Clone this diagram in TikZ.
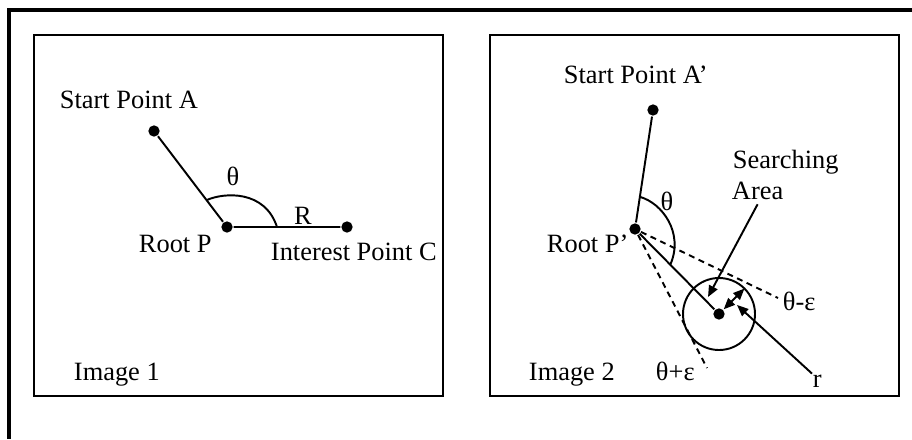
\documentclass[tikz,border=0pt]{standalone}
\usepackage{fontspec}
\setmainfont{Liberation Serif}
\usetikzlibrary{arrows.meta,calc}

\tikzset{every picture/.style={line width=1.45pt}}
\tikzset{
  dot/.style={circle,fill=black,inner sep=0pt,minimum size=8.5pt},
  lbl/.style={anchor=base west,inner sep=0pt,font=\fontsize{19.8}{24}\selectfont},
  lblc/.style={lbl,anchor=base},
  guide/.style={dash pattern=on 4.5pt off 3.5pt},
  tip/.style={-{Triangle[length=8.5pt,width=7pt]}},
  tips/.style={{Triangle[length=8.5pt,width=7pt]}-{Triangle[length=8.5pt,width=7pt]}}
}

\begin{document}
\begin{tikzpicture}[x=0.75pt,y=0.75pt,yscale=-1,xscale=1]
\useasboundingbox (0,0) rectangle (912,439);

%Outer frame
\draw [line width=2.3pt] (912,10) -- (9,10) -- (9,439);
%Shape: Rectangle
\draw [line width=1.6pt] (34,35) rectangle (443,396);
%Shape: Rectangle
\draw [line width=1.6pt] (490,35) rectangle (899,396);

%Points, image 1
\node (A) [dot] at (154,131) {};
\node (P) [dot] at (227,227) {};
\node (C) [dot] at (347,227) {};
\draw (A) -- (P) -- (C);
%Arc
\draw ($(P)!0.28!(A)$) .. controls +(18,-8) and +(-12,-37) .. ($(P)+(50,0)$);

% Text Node
\node (lA) [lbl] at (59,108) {Start Point A};
\node (th1) [lblc] at (233,185) {θ};
\node (lR) [lblc] at (303,224) {R};
\node (lP) [lbl] at (138,252) {Root P};
\node (lC) [lbl] at (270,260) {Interest Point C};
\node (im1) [lbl] at (73,380) {Image 1};

%Points, image 2
\node (A2) [dot] at (653,110) {};
\node (P2) [dot] at (635,229) {};
\node (O) [dot] at (719,314) {};
\draw (A2) -- (P2) -- (O);
%Searching circle
\draw (O) circle [radius=36];
%Arc
\draw ($(P2)!0.27!(A2)$) .. controls +(22,6) and +(14,-32) .. ($(P2)!0.42!(O)$);

%Dashed tangents
\coordinate (tm) at (778,298);
\coordinate (tp) at (707,368);
\draw [guide] (P2) -- (tm);
\draw [guide] (P2) -- (tp);

%Radius
\draw [tips] (O) -- ($(O)+(-45:36)$);

% Text Node
\node (lA2) [lbl] at (563,83) {Start Point A’};
\node (th2) [lblc] at (667,210) {θ};
\node (lP2) [lbl] at (546,252) {Root P’};
\node (srch) [lbl] at (732,168) {Searching};
\node (area) [lbl] at (731,199) {Area};
\node (lm) [lbl] at (782,310) {θ-ε};
\node (lp) [lbl] at (655,380) {θ+ε};
\node (im2) [lbl] at (528,380) {Image 2};
\node (lr) [lbl] at (812,387) {r};

%Pointers
\coordinate (sa) at (708,297);
\coordinate (rt) at (737,305);
\draw [tip] ([yshift=3pt]area.south) -- (sa);
\draw [tip] (lr.north west) -- (rt);

\end{tikzpicture}
\end{document}
